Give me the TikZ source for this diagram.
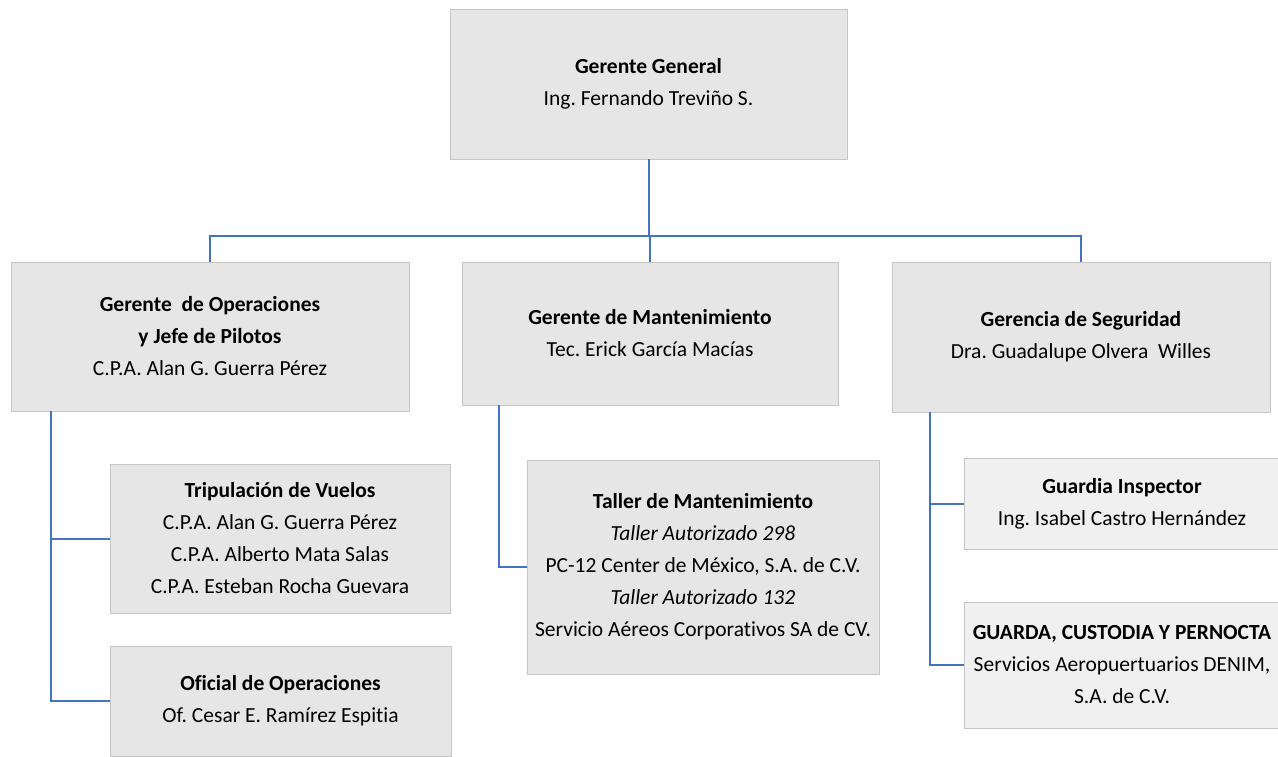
\documentclass[tikz,border=0pt]{standalone}
\usepackage{fontspec}
\setmainfont[RawFeature=-liga]{Carlito}
\frenchspacing
\definecolor{boxgray}{HTML}{E6E6E6}
\definecolor{boxlight}{HTML}{F0F0F0}
\definecolor{edgegray}{HTML}{C6C6C6}
\definecolor{linkblue}{HTML}{4472C4}
\begin{document}
\begin{tikzpicture}[x=1pt,y=-1pt,
  unit/.style={draw=edgegray, fill=boxgray, line width=0.9pt, align=center,
    inner sep=0pt, text=black, font=\fontsize{21.5}{32}\selectfont},
  lightunit/.style={unit, fill=boxlight},
  conn/.style={draw=linkblue, line width=2pt}]
\useasboundingbox (0,0) rectangle (1278,756);

% top level
\node[unit, minimum width=397, minimum height=150] (gg) at (648.5,84)
  {\textbf{Gerente General}\\Ing. Fernando Treviño S.};

% managers
\node[unit, minimum width=398, minimum height=149] (ops) at (210,336.5)
  {\textbf{Gerente~ de Operaciones}\\\textbf{y Jefe de Pilotos}\\C.P.A. Alan G. Guerra Pérez};
\node[unit, minimum width=376, minimum height=143] (man) at (650,333.5)
  {\textbf{Gerente de Mantenimiento}\\Tec. Erick García Macías};
\node[unit, minimum width=378, minimum height=150] (seg) at (1081,337)
  {\textbf{Gerencia de Seguridad}\\Dra. Guadalupe Olvera~ Willes};

% operations staff
\node[unit, minimum width=340, minimum height=149] (trip) at (280,538.5)
  {\textbf{Tripulación de Vuelos}\\C.P.A. Alan G. Guerra Pérez\\C.P.A. Alberto Mata Salas\\C.P.A. Esteban Rocha Guevara};
\node[unit, minimum width=341, minimum height=110] (ofi) at (280.5,701)
  {\textbf{Oficial de Operaciones}\\Of. Cesar E. Ramírez Espitia};

% maintenance shop
\node[unit, minimum width=352, minimum height=214] (tal) at (703,567)
  {\textbf{Taller de Mantenimiento}\\\textit{Taller Autorizado 298}\\PC-12 Center de México, S.A. de C.V.\\\textit{Taller Autorizado 132}\\Servicio Aéreos Corporativos SA de CV.};

% security staff
\node[lightunit, minimum width=316, minimum height=91] (gi) at (1122,503.5)
  {\textbf{Guardia Inspector}\\Ing. Isabel Castro Hernández};
\node[lightunit, minimum width=316, minimum height=126] (gcp) at (1122,665)
  {\textbf{GUARDA, CUSTODIA Y PERNOCTA}\\Servicios Aeropuertuarios DENIM,\\S.A. de C.V.};

% connectors
\coordinate (bus) at (648.5,236);
\draw[conn] (gg.south) -- (bus);
\draw[conn] (ops.north) |- (seg.north |- bus) -- (seg.north);
\draw[conn] (man.north) -- (man.north |- bus);

\coordinate (opsdrop) at ([xshift=40pt]ops.south west);
\draw[conn] (opsdrop) |- (trip.west);
\draw[conn] (opsdrop) |- (ofi.west);

\coordinate (mandrop) at ([xshift=37pt]man.south west);
\draw[conn] (mandrop) |- (tal.west);

\coordinate (segdrop) at ([xshift=38pt]seg.south west);
\draw[conn] (segdrop) |- (gi.west);
\draw[conn] (segdrop) |- (gcp.west);
\end{tikzpicture}
\end{document}
